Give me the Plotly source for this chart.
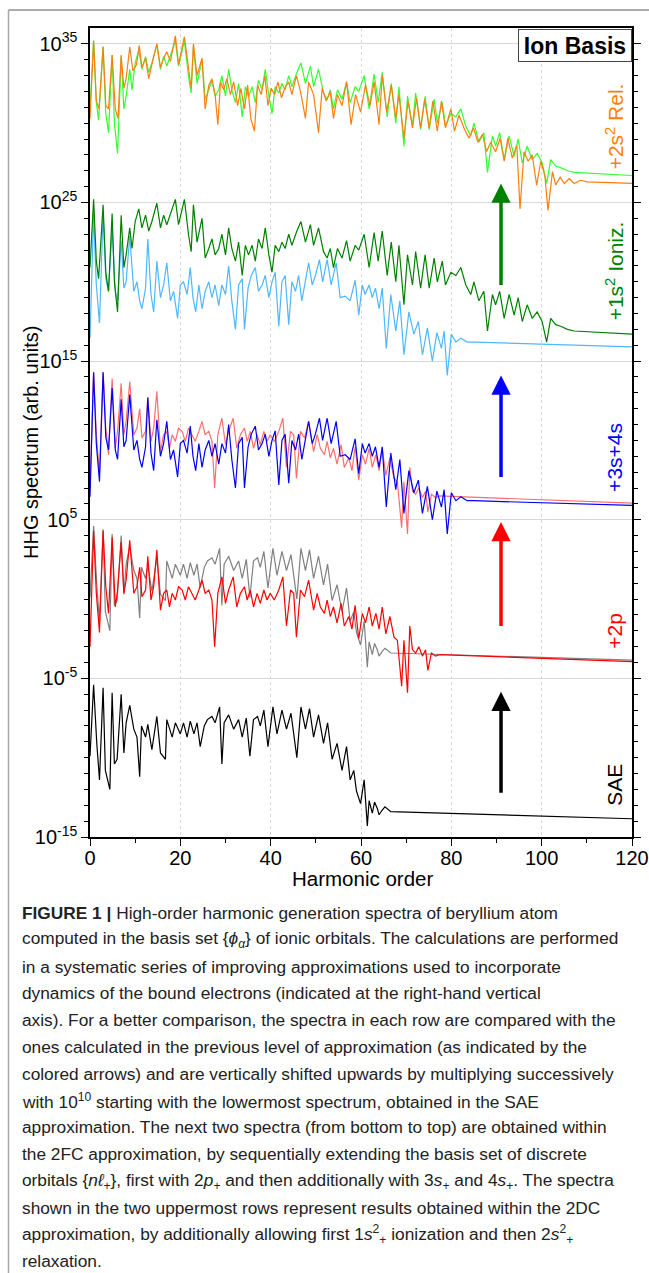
import plotly.graph_objects as go

# ---------------- data (log10 of HHG yield, as displayed in each row) ----------------
# SAE (black, bottom row)
sae_h = [0.0, 0.8, 1.5, 2.1, 2.9, 3.4, 4.4, 4.9, 5.4, 6.0, 6.9, 7.5, 8.0, 8.8, 9.7, 10.4, 11.0, 11.4,
         12.3, 12.8, 13.7, 14.8, 15.6, 16.7, 17.0, 18.2, 18.9, 20.0, 20.7, 21.5, 22.2, 23.0, 23.7, 24.4,
         25.3, 26.0, 27.0, 27.7, 28.7, 29.2, 29.7, 30.7, 31.8, 32.9, 33.7, 34.6, 35.4, 36.2, 37.1, 37.7,
         38.5, 39.4, 40.5, 41.4, 42.5, 43.5, 44.5, 45.8, 46.7, 47.7, 48.6, 49.5, 50.6, 51.7, 52.6, 53.6,
         54.7, 55.8, 56.8, 57.6, 58.4, 59.0, 59.9, 60.7, 61.4, 61.8, 62.5, 63.0, 63.6, 64.0, 64.7, 65.3,
         66.6, 120.0]
sae_log = [-9.9, -5.4, -9.1, -11.4, -5.6, -10.8, -12.0, -5.9, -10.4, -10.1, -6.0, -9.7, -7.8, -6.7, -8.2,
           -8.7, -11.2, -8.0, -8.7, -7.9, -9.5, -7.4, -9.7, -10.1, -7.6, -8.7, -7.8, -8.5, -7.8, -8.7, -7.7,
           -8.5, -7.8, -9.3, -8.0, -7.6, -7.4, -7.8, -6.8, -10.4, -7.8, -7.3, -8.2, -7.6, -8.7, -7.5, -9.9,
           -7.6, -7.4, -8.0, -7.0, -9.3, -6.8, -8.5, -7.0, -8.2, -7.2, -10.0, -6.8, -8.2, -6.9, -8.7, -7.3,
           -9.1, -7.8, -10.1, -9.1, -10.8, -9.3, -11.4, -10.8, -12.1, -12.9, -11.4, -14.3, -12.7, -13.5,
           -12.8, -13.2, -13.6, -13.3, -13.1, -13.4, -13.85]

# +2p (red, fourth row)
p2_h = [0.0, 0.8, 1.4, 2.1, 2.9, 3.5, 4.1, 4.9, 5.6, 6.1, 6.9, 7.5, 8.0, 8.8, 9.7, 10.4, 11.0, 11.5, 12.3,
        12.8, 13.5, 14.1, 14.8, 15.6, 16.3, 17.0, 17.6, 18.2, 18.9, 19.6, 20.4, 21.1, 21.8, 22.6, 23.3,
        24.1, 24.8, 25.5, 26.3, 27.0, 27.6, 28.3, 29.2, 30.0, 30.7, 31.7, 32.5, 33.3, 34.2, 34.8, 35.5,
        36.2, 37.0, 37.7, 38.5, 39.2, 39.9, 40.8, 41.8, 42.7, 43.5, 44.4, 45.1, 45.7, 46.6, 47.5, 48.4,
        49.5, 50.3, 51.0, 51.9, 52.5, 53.2, 53.9, 54.7, 55.6, 56.3, 57.3, 58.0, 58.7, 59.5, 60.3, 61.0,
        61.8, 62.5, 63.3, 64.0, 64.7, 65.5, 66.4, 67.3, 68.05, 69.0, 69.5, 70.3, 70.8, 71.4, 72.1, 72.8,
        73.6, 74.3, 74.8, 75.6, 76.5, 77.3, 120.0]
p2_log = [-3.0, 4.3, 0.36, -2.1, 4.3, 0.78, -0.9, 3.9, -0.5, 0.57, 3.6, 0.36, 1.2, 3.7, 0.36, 0.78, 2.0,
          0.15, 0.57, 2.7, -0.06, 0.78, 3.1, -0.7, 0.36, 0.57, -0.5, 0.36, -0.06, 0.78, 0.57, -0.06, 0.78,
          0.36, -0.06, 0.57, 1.2, 0.36, 0.57, -0.06, -3.0, 0.36, 1.4, -0.27, 0.57, 1.4, -0.5, 0.36, 0.78,
          -0.06, 0.57, -0.5, 0.36, -0.27, 0.57, -0.06, 0.36, -0.06, 0.57, 1.4, -1.7, 0.57, 0.36, -2.4, 0.57,
          0.15, 1.2, -0.7, 0.36, -0.5, -0.9, -0.06, -1.1, -0.5, -1.5, -0.27, -1.7, -1.1, -1.9, -0.4, -2.5,
          -0.9, -1.5, -0.5, -1.7, -0.9, -1.9, -0.5, -2.2, -1.1, -2.4, -2.6, -5.5, -2.6, -5.9, -1.7, -3.2,
          -3.4, -3.0, -3.6, -3.2, -4.5, -3.4, -3.6, -3.5, -3.95]

# +3s+4s (blue, third row)
s34_h = [0.0, 0.8, 1.4, 2.1, 2.9, 3.5, 4.1, 4.9, 5.6, 6.1, 6.9, 7.5, 8.0, 8.8, 9.7, 10.4, 11.0, 11.5, 12.3,
         12.8, 13.5, 14.1, 14.8, 15.6, 16.3, 17.0, 17.8, 18.5, 19.4, 20.0, 20.7, 21.5, 22.2, 22.8, 23.4,
         24.1, 24.8, 25.5, 26.3, 27.0, 27.7, 28.5, 29.2, 30.0, 30.7, 31.4, 32.2, 32.9, 33.7, 34.2, 35.0,
         35.7, 36.6, 37.3, 38.1, 38.8, 39.6, 40.3, 41.0, 41.8, 42.5, 43.2, 44.0, 44.7, 45.5, 46.2, 46.9,
         47.7, 48.4, 49.2, 49.9, 50.8, 51.5, 52.5, 53.4, 54.5, 55.4, 56.5, 57.6, 58.7, 59.5, 60.3, 60.9,
         61.8, 62.5, 63.2, 64.0, 64.7, 65.6, 66.6, 67.7, 68.6, 69.5, 70.6, 71.7, 72.7, 73.6, 74.7, 75.8,
         76.8, 77.8, 78.4, 79.1, 80.0, 81.0, 82.1, 83.5, 85.0, 120.0]
s34_log = [6.45, 14.3, 9.8, 7.4, 14.3, 10.2, 9.4, 13.3, 9.4, 8.8, 12.6, 9.6, 10.0, 12.9, 9.4, 10.0, 8.8,
           8.3, 9.6, 12.7, 9.2, 8.1, 11.3, 9.0, 9.8, 11.2, 8.8, 9.4, 7.7, 9.8, 10.0, 9.2, 10.9, 9.0, 8.1,
           9.8, 8.3, 9.4, 10.0, 9.0, 9.8, 8.5, 9.8, 9.2, 11.0, 8.8, 7.0, 9.8, 10.2, 7.0, 9.6, 10.4, 10.9,
           9.4, 9.8, 10.4, 9.0, 10.0, 10.6, 7.2, 10.0, 10.4, 7.3, 10.0, 9.4, 10.4, 8.8, 10.0, 11.2, 9.8,
           10.4, 11.4, 10.0, 11.4, 9.8, 11.2, 9.0, 9.1, 8.8, 10.1, 7.9, 9.8, 9.2, 9.8, 9.0, 9.6, 8.3, 9.6,
           5.8, 9.2, 6.9, 8.8, 5.4, 8.1, 6.7, 7.5, 5.4, 7.1, 5.0, 6.8, 5.8, 6.9, 4.1, 6.7, 6.2, 6.45, 6.2,
           6.2, 5.9]

# +1s^2 ionization (dark green, second row)
s1_h = [0.0, 0.8, 1.4, 1.9, 2.9, 3.5, 4.1, 4.9, 5.4, 6.1, 6.9, 7.5, 8.0, 8.8, 9.3, 10.0, 10.8, 11.5, 12.3,
        13.0, 13.7, 14.8, 15.6, 16.3, 17.0, 17.8, 18.9, 19.6, 20.9, 21.8, 22.4, 22.9, 23.7, 24.8, 25.5,
        26.3, 27.0, 27.7, 28.5, 29.2, 30.0, 30.7, 31.4, 32.2, 32.9, 33.7, 34.4, 35.1, 35.9, 36.6, 37.3,
        38.1, 38.8, 39.6, 40.3, 41.0, 41.8, 42.5, 43.2, 44.0, 44.7, 45.8, 46.7, 47.7, 48.8, 49.5, 50.6,
        51.7, 52.5, 53.2, 53.9, 54.8, 55.8, 56.8, 57.6, 58.7, 59.5, 60.7, 61.8, 62.9, 63.8, 64.7, 65.8,
        66.7, 67.7, 68.4, 69.5, 70.3, 71.4, 72.1, 73.2, 74.2, 75.1, 76.2, 76.9, 78.0, 78.7, 79.9, 81.0,
        82.1, 83.2, 84.3, 85.0, 86.1, 87.2, 88.0, 89.1, 89.8, 90.7, 91.7, 92.8, 93.9, 94.8, 95.7, 96.8,
        97.9, 99.0, 100.1, 101.1, 102.0, 103.1, 104.2, 105.7, 107.2, 120.0]
s1_log = [20.9, 25.2, 21.3, 20.2, 24.85, 20.6, 19.4, 24.3, 20.0, 18.1, 24.2, 20.9, 21.7, 23.4, 22.1, 23.8,
          24.6, 23.4, 24.2, 23.2, 23.8, 24.95, 23.4, 24.2, 23.6, 24.3, 25.2, 23.6, 25.2, 23.0, 21.9, 24.85,
          22.5, 24.0, 21.5, 22.1, 22.7, 21.7, 22.1, 23.0, 21.7, 23.4, 22.1, 21.3, 22.5, 20.4, 22.3, 21.7,
          22.3, 21.3, 22.7, 22.1, 23.4, 21.7, 20.6, 22.3, 21.9, 22.5, 22.1, 23.0, 22.3, 23.2, 23.8, 22.5,
          23.6, 22.3, 23.4, 21.9, 21.5, 22.1, 20.9, 22.1, 21.5, 22.6, 21.3, 22.3, 22.0, 23.0, 20.9, 23.1,
          21.3, 23.2, 20.4, 22.5, 20.0, 22.3, 18.55, 21.7, 19.8, 21.9, 19.6, 21.7, 19.6, 21.5, 20.0, 21.3,
          19.8, 20.6, 20.4, 20.9, 19.8, 19.2, 20.0, 18.8, 19.4, 16.9, 19.2, 18.55, 19.4, 17.7, 19.2, 17.9,
          19.0, 17.5, 18.55, 17.7, 18.1, 17.5, 16.2, 17.7, 17.3, 17.2, 17.0, 16.9, 16.7]

# +2s^2 relaxation (orange, top row)
s2_h = [0.0, 0.8, 1.4, 2.0, 2.9, 3.5, 4.1, 4.9, 5.6, 6.2, 6.9, 7.5, 8.0, 8.8, 9.5, 10.3, 10.9, 11.5, 12.3,
        13.0, 13.7, 14.8, 15.6, 16.3, 17.0, 17.8, 18.9, 19.6, 20.9, 21.8, 22.4, 22.9, 23.7, 24.8, 25.5,
        26.3, 27.0, 27.7, 28.3, 28.9, 29.6, 30.3, 31.1, 31.8, 32.7, 33.4, 34.2, 34.9, 35.6, 36.4, 37.1,
        37.9, 38.7, 39.4, 40.1, 40.9, 41.6, 42.4, 43.1, 44.0, 44.7, 45.7, 46.6, 47.7, 48.4, 49.5, 50.6,
        51.4, 52.3, 53.2, 53.9, 54.8, 55.8, 56.8, 57.8, 58.8, 59.9, 61.0, 62.0, 62.9, 64.0, 64.7, 65.7,
        66.7, 67.7, 68.4, 69.5, 70.4, 71.4, 72.3, 73.2, 74.1, 75.1, 75.9, 76.9, 77.8, 78.7, 79.9, 80.7,
        81.7, 82.8, 83.9, 84.9, 85.9, 86.9, 87.8, 88.7, 89.8, 90.8, 91.7, 92.5, 93.5, 94.5, 95.2, 96.1,
        97.0, 97.9, 98.9, 99.8, 100.7, 101.4, 102.4, 103.1, 104.1, 105.0, 106.1, 107.2, 108.6, 110.1, 120.0]
s2_log = [30.3, 35.2, 31.4, 30.9, 34.8, 31.1, 30.9, 34.3, 30.9, 30.3, 34.3, 32.2, 32.8, 34.8, 33.3, 33.7,
          34.9, 33.5, 34.1, 32.8, 33.7, 35.0, 33.5, 34.1, 34.5, 33.9, 35.5, 33.7, 35.45, 33.3, 32.2, 35.0,
          33.0, 34.1, 30.9, 32.4, 32.8, 31.8, 29.9, 32.6, 32.1, 32.8, 31.8, 32.6, 31.1, 32.2, 30.9, 32.4,
          30.3, 29.5, 32.4, 31.8, 33.0, 31.1, 32.2, 31.8, 32.6, 31.6, 32.2, 32.6, 31.8, 33.0, 32.0, 30.3,
          32.6, 31.8, 29.4, 32.2, 31.4, 32.0, 30.3, 31.8, 31.1, 32.6, 29.9, 31.8, 30.7, 32.4, 31.1, 32.6,
          29.9, 33.0, 30.7, 32.4, 30.3, 31.8, 29.05, 31.4, 29.7, 31.6, 29.7, 31.5, 29.7, 31.4, 29.5, 31.4,
          29.7, 30.9, 29.5, 30.5, 29.7, 29.05, 29.7, 28.8, 29.3, 28.2, 28.8, 28.2, 29.05, 27.6, 29.05, 27.8,
          28.6, 24.6, 28.2, 27.6, 28.0, 26.1, 27.6, 26.7, 24.5, 26.95, 26.1, 26.6, 26.2, 26.5, 26.2, 26.4,
          26.3, 26.2]

ROW_SHIFT = 10  # each comparison copy is multiplied by 1e10

row_labels = ["+2s<sup>2</sup> Rel.", "+1s<sup>2</sup> Ioniz.", "+3s+4s", "+2p", "SAE"]
row_label_colors = ["#FF7F00", "#008000", "#0000FF", "#FF0000", "#000000"]
row_label_y = [29.8, 20.66, 8.9, -2.0, -11.7]
arrow_colors = ["#008000", "#0000FF", "#FF0000", "#000000"]
arrow_tail = [19.7, 7.6, -1.8, -12.3]
arrow_tip = [26.2, 14.1, 4.85, -5.85]
ARROW_H = 91

y_major = [-15, -5, 5, 15, 25, 35]
x_major = [0, 20, 40, 60, 80, 100, 120]
x_minor = [10, 30, 50, 70, 90, 110]

caption_lines = [
    "<b>FIGURE 1 |</b> High-order harmonic generation spectra of beryllium atom",
    "computed in the basis set {<i>ϕ</i><sub><i>α</i></sub>} of ionic orbitals. The calculations are performed",
    "in a systematic series of improving approximations used to incorporate",
    "dynamics of the bound electrons (indicated at the right-hand vertical",
    "axis). For a better comparison, the spectra in each row are compared with the",
    "ones calculated in the previous level of approximation (as indicated by the",
    "colored arrows) and are vertically shifted upwards by multiplying successively",
    "with 10<sup>10</sup> starting with the lowermost spectrum, obtained in the SAE",
    "approximation. The next two spectra (from bottom to top) are obtained within",
    "the 2FC approximation, by sequentially extending the basis set of discrete",
    "orbitals {<i>nℓ</i><sub>+</sub>}, first with 2<i>p</i><sub>+</sub> and then additionally with 3<i>s</i><sub>+</sub> and 4<i>s</i><sub>+</sub>. The spectra",
    "shown in the two uppermost rows represent results obtained within the 2DC",
    "approximation, by additionally allowing first 1<i>s</i><sup>2</sup><sub>+</sub> ionization and then 2<i>s</i><sup>2</sup><sub>+</sub>",
    "relaxation.",
]

# ---------------- layout geometry ----------------
W, H = 649, 1273
L, R, T, B = 90, 17, 28, 436
PW, PH = W - L - R, H - T - B
FONT = "Liberation Sans, Arial, Helvetica, sans-serif"


def px_x(px):
    return (px - L) / PW


def px_y(py):
    return (T + PH - py) / PH


fig = go.Figure()


def add_line(h, logs, color, width=1.2):
    fig.add_trace(go.Scatter(x=h, y=[10.0 ** v for v in logs], mode="lines",
                             line=dict(color=color, width=width),
                             showlegend=False, hoverinfo="skip"))


# bottom row
add_line(sae_h, sae_log, "#000000")
# 2p row with SAE copy
add_line(sae_h, [v + ROW_SHIFT for v in sae_log], "#808080")
add_line(p2_h, p2_log, "#FF0000")
# 3s+4s row with 2p copy
add_line(p2_h, [v + ROW_SHIFT for v in p2_log], "#FF6E6E")
add_line(s34_h, s34_log, "#0000FF")
# 1s^2 row with 3s+4s copy
add_line(s34_h, [v + ROW_SHIFT for v in s34_log], "#4DB8FF")
add_line(s1_h, s1_log, "#008000")
# 2s^2 row with 1s^2 copy
add_line(s1_h, [v + ROW_SHIFT for v in s1_log], "#33FF33")
add_line(s2_h, s2_log, "#FF7F0E")

ann = []
# arrows
for c, t0, t1 in zip(arrow_colors, arrow_tail, arrow_tip):
    ann.append(dict(x=ARROW_H, y=t1, ax=ARROW_H, ay=t0, xref="x", yref="y", axref="x", ayref="y",
                    text="", showarrow=True, arrowhead=2, arrowsize=1.1, arrowwidth=3.5,
                    arrowcolor=c))
# right labels
for txt, c, yv in zip(row_labels, row_label_colors, row_label_y):
    ann.append(dict(x=px_x(615), y=yv, xref="paper", yref="y", text=txt, showarrow=False,
                    textangle=-90, font=dict(family=FONT, size=21, color=c),
                    xanchor="center", yanchor="middle"))
# Ion Basis box
ann.append(dict(x=1, y=px_y(29), xref="paper", yref="paper", xanchor="right", yanchor="top",
                text="<b>Ion Basis</b>", showarrow=False, font=dict(family=FONT, size=23, color="black"),
                bgcolor="white", bordercolor="#444", borderwidth=1, borderpad=0, width=112, height=31))
# axis titles
ann.append(dict(x=px_x(31), y=px_y(443), xref="paper", yref="paper", text="HHG spectrum (arb. units)",
                showarrow=False, textangle=-90, font=dict(family=FONT, size=20, color="black"),
                xanchor="center", yanchor="middle"))
ann.append(dict(x=px_x(362), y=px_y(878), xref="paper", yref="paper", text="Harmonic order",
                showarrow=False, font=dict(family=FONT, size=20.5, color="black"),
                xanchor="center", yanchor="middle"))
# caption
for i, line in enumerate(caption_lines):
    ann.append(dict(x=px_x(20), y=px_y(913 + 26.8 * i), xref="paper", yref="paper", text=line,
                    showarrow=False, xanchor="left", yanchor="middle", align="left",
                    font=dict(family=FONT, size=17.3, color="#222")))

shapes = [
    dict(type="line", xref="paper", yref="paper", x0=px_x(8.5), x1=px_x(8.5), y0=px_y(10), y1=px_y(1273),
         line=dict(color="#a8a8a8", width=1.5)),
    dict(type="line", xref="paper", yref="paper", x0=px_x(8.5), x1=px_x(649), y0=px_y(10), y1=px_y(10),
         line=dict(color="#909090", width=1.5)),
]

fig.update_layout(
    width=W, height=H, margin=dict(l=L, r=R, t=T, b=B, pad=0, autoexpand=False),
    paper_bgcolor="white", plot_bgcolor="white",
    font=dict(family=FONT, color="black"),
    annotations=ann, shapes=shapes, showlegend=False,
    xaxis=dict(range=[0, 120], tickvals=x_major, ticktext=[str(v) for v in x_major],
               automargin=False, ticklabelstandoff=-5,
               ticks="outside", ticklen=7, tickwidth=1.2, tickcolor="black",
               minor=dict(tickvals=x_minor, ticks="outside", ticklen=4, tickcolor="black", showgrid=False),
               showline=True, linecolor="black", linewidth=1.5, mirror=True,
               showgrid=True, gridcolor="#d8d8d8", griddash="dot", gridwidth=1, zeroline=False,
               tickfont=dict(family=FONT, size=20)),
    yaxis=dict(type="log", range=[-15, 36], tickvals=[10.0 ** k for k in y_major],
               ticktext=["10<sup>%d</sup>" % k for k in y_major], automargin=False,
               ticks="outside", ticklen=7, tickwidth=1.2, tickcolor="black",
               minor=dict(tickvals=[10.0 ** k for k in range(-15, 36) if k not in y_major],
                          ticks="outside", ticklen=4, tickcolor="black", showgrid=False),
               showline=True, linecolor="black", linewidth=1.5, mirror="ticks",
               showgrid=True, gridcolor="#d8d8d8", gridwidth=1, zeroline=False,
               tickfont=dict(family=FONT, size=20)),
)

fig.write_html("out.html", config={"displayModeBar": False},
               post_script="document.body.style.margin='0';document.body.style.overflow='hidden';")
